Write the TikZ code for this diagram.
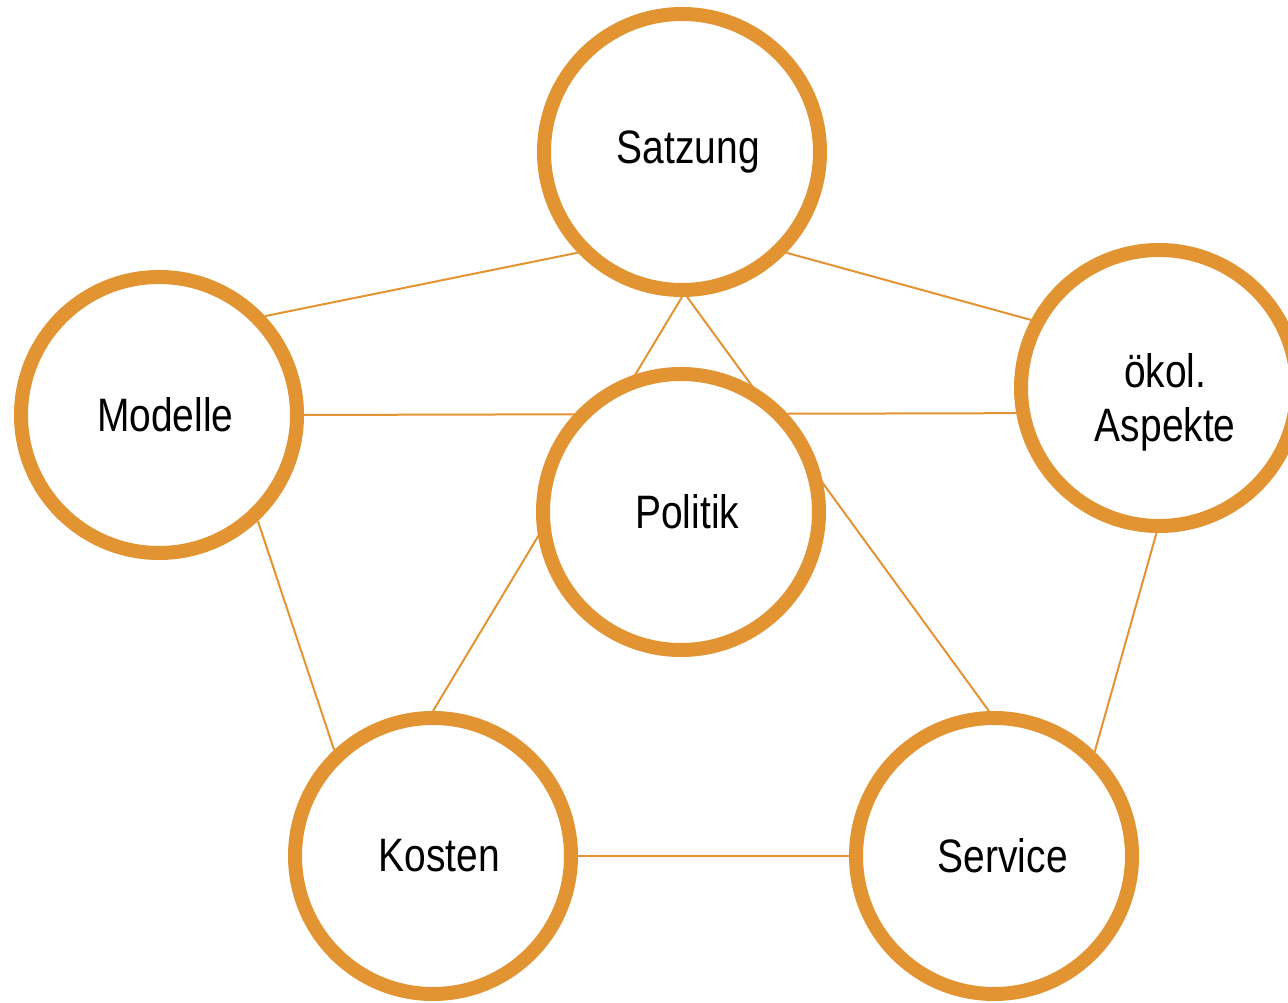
\documentclass[tikz,border=0pt]{standalone}
\usepackage{fontspec}
\setmainfont[FakeStretch=0.83]{Liberation Sans}
\usepackage{tikz}
\usetikzlibrary{positioning, backgrounds}
\definecolor{ring}{RGB}{226,148,51}
\tikzstyle{topic}=[circle, draw=ring, line width=0.28cm, fill=white, minimum size=5.52cm, inner sep=0pt, align=center, font=\fontsize{26.7}{31}\selectfont, execute at begin node={\hspace*{0.25cm}}]
\tikzstyle{link}=[draw=ring, line width=0.04cm]

\begin{document}
\begin{tikzpicture}
	\useasboundingbox (0,0) rectangle (25.76,20.04);
	\node [topic] (satzung) at (13.64, 17.0) {Satzung};
	\node [topic] (modelle) at (3.18, 11.74) {Modelle};
	\node [topic] (oekol) at (23.18, 12.28) {\rule{0pt}{1.25cm}ökol.\\Aspekte};
	\node [topic] (politik) at (13.62, 9.8) {Politik};
	\node [topic] (kosten) at (8.66, 2.92) {Kosten};
	\node [topic] (service) at (19.88, 2.92) {\hspace*{0.1cm}Service};
	\begin{scope}[on background layer]
	\draw [link] (satzung.224) to (modelle.43);
	\draw [link] (satzung.316.7) to (oekol.152.2);
	\draw [link] (satzung.south) to (kosten.north);
	\draw [link] (satzung.272) to (service.92);
	\draw [link] (modelle.east) to (oekol.190.6);
	\draw [link] (modelle.313.3) to (kosten.133.3);
	\draw [link] (oekol.269) to (service.46.7);
	\draw [link] (kosten.east) to (service.west);
	\end{scope}
\end{tikzpicture}
\end{document}
